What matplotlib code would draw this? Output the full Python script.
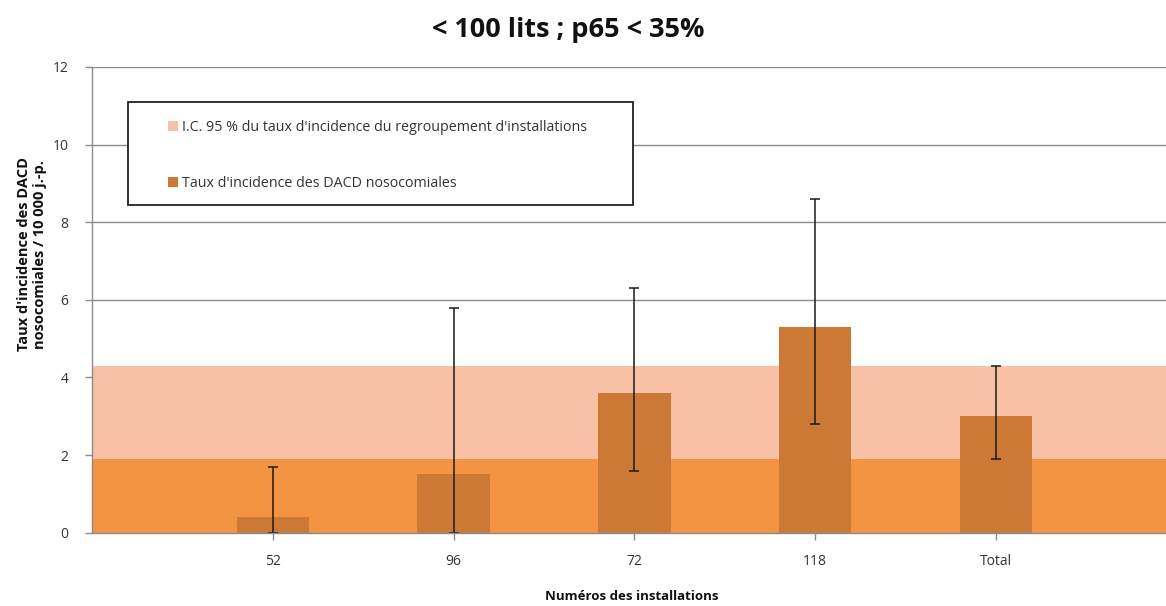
import matplotlib
matplotlib.use("Agg")
import matplotlib.pyplot as plt
from matplotlib.patches import Patch, Rectangle
import numpy as np

categories = ["52", "96", "72", "118", "Total"]
rates = [0.4, 1.5, 3.6, 5.3, 3.0]
ci_low = [0.0, 0.0, 1.6, 2.8, 1.9]
ci_high = [1.7, 5.8, 6.3, 8.6, 4.3]
group_ci = [1.9, 4.3]
yticks = [0, 2, 4, 6, 8, 10, 12]

plt.rcParams['font.family'] = ['Open Sans', 'DejaVu Sans']

W, H = 1166, 606
fig = plt.figure(figsize=(W/100, H/100), dpi=100)
ax = fig.add_axes([92/W, 1-532.7/H, 1-92/W, (532.7-67)/H])

x = np.arange(1, len(categories)+1)
rates_a = np.array(rates)
yerr = np.vstack([rates_a - np.array(ci_low), np.array(ci_high) - rates_a])

ax.set_xlim(0, 5.94)
ax.set_ylim(0, 12)

dark_band = '#F39443'
light_band = '#F8C1A6'
bar_col = '#CC7935'

ax.axhspan(0, group_ci[0], color=dark_band, zorder=1, lw=0)
ax.axhspan(group_ci[0], group_ci[1], color=light_band, zorder=1, lw=0)

ax.bar(x, rates, width=0.4, color=bar_col, zorder=2, lw=0)
ax.errorbar(x, rates, yerr=yerr, fmt='none', ecolor='#1a1a1a', elinewidth=1.1,
            capsize=3.5, capthick=1.1, zorder=3)

ax.set_yticks(yticks)
ax.yaxis.grid(True, color='#8c8c8c', lw=1.0, zorder=0)
ax.set_axisbelow(True)
ax.set_xticks(x)
ax.set_xticklabels(categories)
ax.tick_params(axis='both', labelsize=10, colors='#8c8c8c', labelcolor='#333333',
               length=5, width=1)
ax.tick_params(axis='x', pad=10)
ax.tick_params(axis='y', pad=12)
for s in ['top', 'right']:
    ax.spines[s].set_visible(False)
for s in ['left', 'bottom']:
    ax.spines[s].set_color('#8c8c8c')
    ax.spines[s].set_linewidth(1.0)
ax.spines['bottom'].set_zorder(4)

fig.text(568/W, 1-30/H, "< 100 lits ; p65 < 35%", ha='center', va='center',
         fontsize=19.5, fontweight='bold', color='#111111')
fig.text(32/W, 1-254/H, "Taux d'incidence des DACD\nnosocomiales / 10 000 j.-p.",
         rotation=90, ha='center', va='center', fontsize=10.5, fontweight='bold',
         color='#111111', linespacing=1.15)
fig.text(632/W, 1-597/H, "Numéros des installations", ha='center', va='center',
         fontsize=9.5, fontweight='bold', color='#111111')

# legend box frame
fig.add_artist(Rectangle((128/W, 1-205/H), (633-128)/W, (205-102)/H,
                         transform=fig.transFigure, facecolor='white',
                         edgecolor='#222222', lw=1.3, zorder=5))

handles = [Patch(facecolor=light_band, edgecolor='none'),
           Patch(facecolor=bar_col, edgecolor='none')]
labels = ["I.C. 95 % du taux d'incidence du regroupement d'installations",
          "Taux d'incidence des DACD nosocomiales"]
leg = fig.legend(handles, labels, loc='upper left',
                 bbox_to_anchor=(168/W, 1-120/H),
                 borderaxespad=0, borderpad=0, fontsize=10.3, frameon=False,
                 handlelength=0.7, handleheight=0.7,
                 handletextpad=0.3, labelspacing=2.85)
leg.set_zorder(6)
for t in leg.get_texts():
    t.set_color('#333333')

fig.savefig("out.png", dpi=100)
